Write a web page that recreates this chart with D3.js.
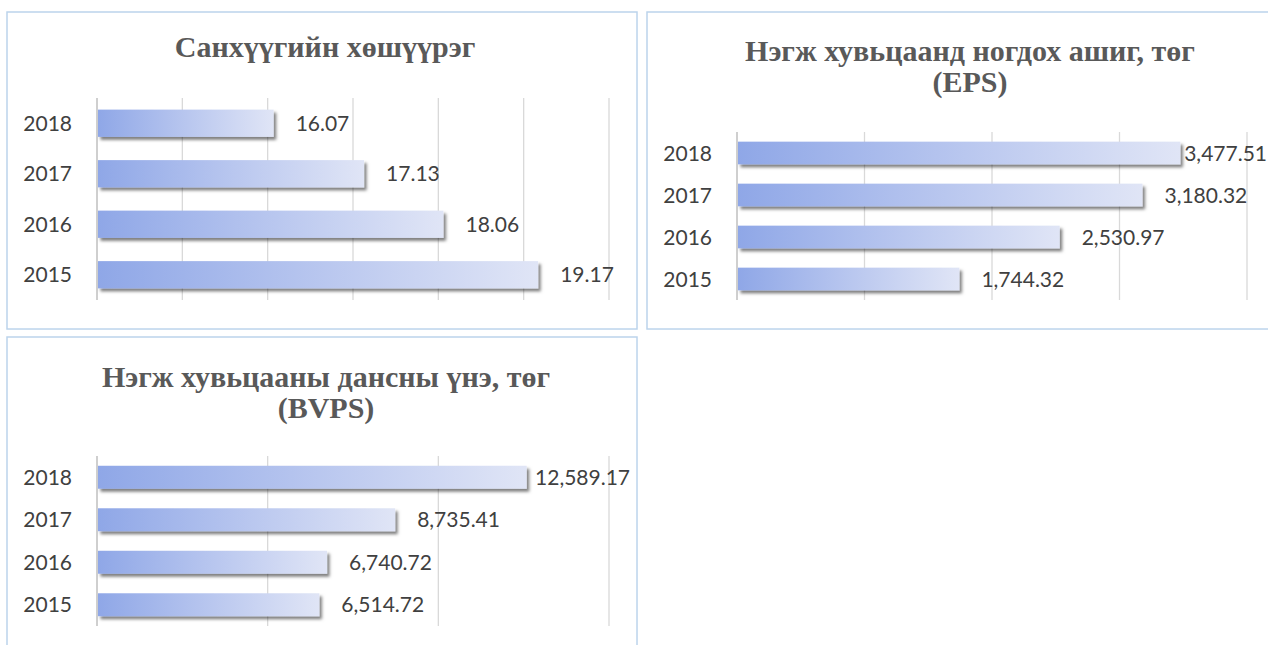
<!DOCTYPE html>
<html>
<head>
<meta charset="utf-8">
<script src="https://cdn.jsdelivr.net/npm/d3@7"></script>
<style>
  body { margin: 0; background: #fff; }
  svg { display: block; }
</style>
</head>
<body>
<div id="chart"></div>
<script>
// data
var years = ["2015", "2016", "2017", "2018"];
var leverage = [19.17, 18.06, 17.13, 16.07];          // Санхүүгийн хөшүүрэг
var eps = [1744.32, 2530.97, 3180.32, 3477.51];       // EPS, төг
var bvps = [6514.72, 6740.72, 8735.41, 12589.17];     // BVPS, төг

var leverageTicks = [14, 15, 16, 17, 18, 19, 20];
var epsTicks = [0, 1000, 2000, 3000, 4000];
var bvpsTicks = [0, 5000, 10000, 15000];

var W = 1268, H = 645;

var svg = d3.select("#chart").append("svg")
    .attr("width", W)
    .attr("height", H);

var defs = svg.append("defs");

var grad = defs.append("linearGradient")
    .attr("id", "barGrad")
    .attr("x1", "0%").attr("x2", "100%")
    .attr("y1", "0%").attr("y2", "0%");
grad.append("stop").attr("offset", "0%").attr("stop-color", "#8fa7e7");
grad.append("stop").attr("offset", "45%").attr("stop-color", "#b4c3ee");
grad.append("stop").attr("offset", "100%").attr("stop-color", "#e0e5f6");

var shadow = defs.append("filter")
    .attr("id", "barShadow")
    .attr("x", "-5%").attr("y", "-30%")
    .attr("width", "115%").attr("height", "180%");
shadow.append("feDropShadow")
    .attr("dx", 2.5).attr("dy", 3)
    .attr("stdDeviation", 1.6)
    .attr("flood-color", "#000")
    .attr("flood-opacity", 0.5);

var fmt = d3.format(",.2f");

function drawPanel(p) {
    var g = svg.append("g");

    // panel frame
    g.append("rect")
        .attr("x", p.box[0]).attr("y", p.box[1])
        .attr("width", p.box[2]).attr("height", p.box[3])
        .attr("fill", "#fff")
        .attr("stroke", "#bcd4ec")
        .attr("stroke-width", 1.5);

    // title lines
    var cx = p.box[0] + p.titleCx;
    p.title.forEach(function(t, i) {
        g.append("text")
            .attr("x", cx)
            .attr("y", p.titleY[i])
            .attr("text-anchor", "middle")
            .style("font-family", "'Liberation Serif', 'Times New Roman', serif")
            .style("font-weight", "bold")
            .style("font-size", "30px")
            .style("fill", "#595959")
            .text(t);
    });

    var x = d3.scaleLinear()
        .domain([p.ticks[0], p.ticks[p.ticks.length - 1]])
        .range([p.plot[0], p.plot[1]]);

    var y = d3.scaleBand()
        .domain(years.slice().reverse())
        .range([p.plot[2], p.plot[3]])
        .paddingInner(p.pad)
        .paddingOuter(p.pad / 2);

    // vertical gridlines
    g.selectAll(".grid")
        .data(p.ticks)
        .enter().append("line")
        .attr("x1", function(d) { return x(d); })
        .attr("x2", function(d) { return x(d); })
        .attr("y1", p.plot[2])
        .attr("y2", p.plot[3])
        .attr("stroke", function(d, i) { return i == 0 ? "#cfcfcf" : "#d9d9d9"; })
        .attr("stroke-width", function(d, i) { return i == 0 ? 2 : 1.3; });

    var rows = years.map(function(yr, i) { return { year: yr, v: p.values[i] }; });

    // bars
    g.selectAll(".bar")
        .data(rows)
        .enter().append("rect")
        .attr("x", x(p.ticks[0]) + 1)
        .attr("y", function(d) { return y(d.year); })
        .attr("width", function(d) { return x(d.v) - x(p.ticks[0]) - 1; })
        .attr("height", y.bandwidth())
        .attr("fill", "url(#barGrad)")
        .attr("filter", "url(#barShadow)");

    // category labels
    g.selectAll(".ylab")
        .data(rows)
        .enter().append("text")
        .attr("x", p.plot[0] - 25)
        .attr("y", function(d) { return y(d.year) + y.bandwidth() / 2; })
        .attr("dy", "0.36em")
        .attr("text-anchor", "end")
        .style("font-family", "Lato, 'Open Sans', sans-serif")
        .style("font-size", "21px")
        .style("fill", "#404040")
        .text(function(d) { return d.year; });

    // value labels, kept inside the visible area
    g.selectAll(".vlab")
        .data(rows)
        .enter().append("text")
        .attr("y", function(d) { return y(d.year) + y.bandwidth() / 2; })
        .attr("dy", "0.36em")
        .style("font-family", "Lato, 'Open Sans', sans-serif")
        .style("font-size", "21px")
        .style("fill", "#404040")
        .text(function(d) { return p.format(d.v); })
        .attr("x", function(d) {
            var w = this.getComputedTextLength();
            return Math.min(x(d.v) + 22, p.limit - w);
        });
}

drawPanel({
    box: [7, 12, 630, 317],
    titleCx: 318,
    titleY: [57],
    title: ["Санхүүгийн хөшүүрэг"],
    plot: [97, 609, 98, 300],
    pad: 0.46,
    ticks: leverageTicks,
    values: leverage,
    format: d3.format(".2f"),
    limit: 632
});

drawPanel({
    box: [647, 12, 630, 317],
    titleCx: 323,
    titleY: [61, 92],
    title: ["Нэгж хувьцаанд ногдох ашиг, төг", "(EPS)"],
    plot: [737, 1247, 132, 300],
    pad: 0.46,
    ticks: epsTicks,
    values: eps,
    format: fmt,
    limit: W - 1
});

drawPanel({
    box: [7, 337, 630, 320],
    titleCx: 319,
    titleY: [387, 418],
    title: ["Нэгж хувьцааны дансны үнэ, төг", "(BVPS)"],
    plot: [97, 609, 456, 626],
    pad: 0.46,
    ticks: bvpsTicks,
    values: bvps,
    format: fmt,
    limit: 630
});
</script>
</body>
</html>
